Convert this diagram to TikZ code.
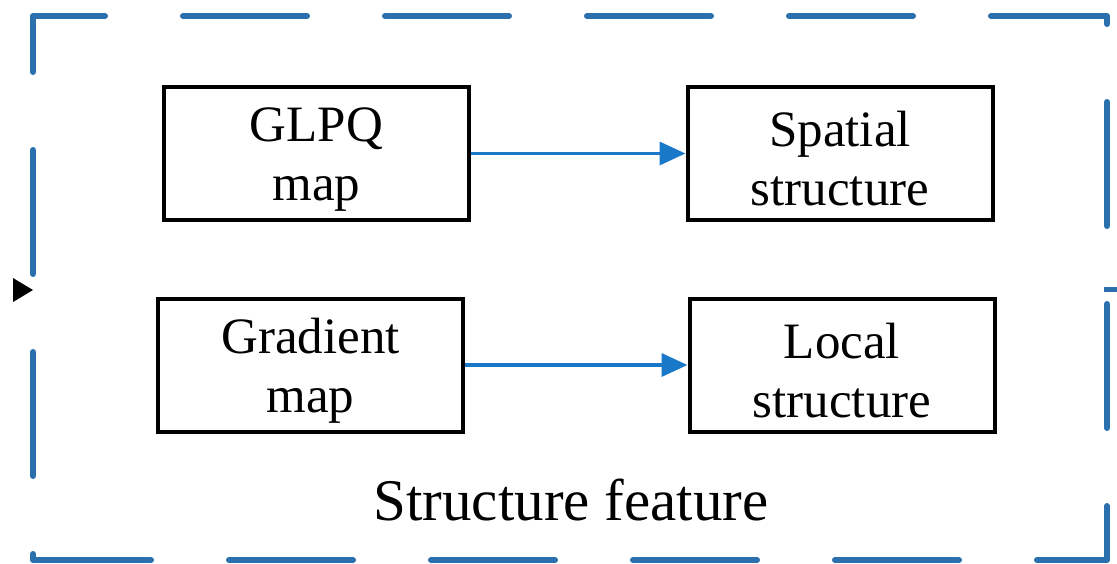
\documentclass[tikz,border=0pt]{standalone}
\usepackage{fontspec}
\setmainfont{Liberation Serif}
\usetikzlibrary{arrows.meta}
\definecolor{frameblue}{HTML}{2A6FAE}
\definecolor{arrowblue}{HTML}{1A78C8}
\tikzset{
  featbox/.style={draw=black, line width=4pt, fill=white, minimum width=305pt,
    minimum height=133pt, inner sep=0pt, align=center,
    font=\fontsize{51}{59}\selectfont},
  flow/.style={draw=arrowblue, line width=3.6pt,
    -{Triangle[length=26pt,width=23pt]}},
  outline/.style={draw=frameblue, line width=6pt, line cap=round, line join=round,
    dash pattern=on 124pt off 78pt, dash phase=52pt},
}
\begin{document}
\begin{tikzpicture}[x=1pt,y=-1pt]
  \useasboundingbox (0,0) rectangle (1117,563);
  % dashed enclosure of the feature block
  \path[outline] (33,16) -- (1107,16) -- (1107,560) -- (33,560) -- cycle;
  \draw[frameblue, line width=5pt] (1104,289) -- (1117,289);
  % incoming marker on the left edge
  \fill[black] (13,278) -- (33,290) -- (13,302) -- cycle;
  % input maps and extracted structures
  \node[featbox] (glpq) at (316.5,153.5) {\rule{0pt}{46pt}GLPQ\\map};
  \node[featbox] (spatial) at (840,153.5) {\rule{0pt}{46pt}Spatial\\structure};
  \node[featbox] (grad) at (310.5,365) {\rule{0pt}{46pt}Gradient\\map};
  \node[featbox] (local) at (842,365) {\rule{0pt}{46pt}Local\\structure};
  \draw[flow] (glpq) -- (spatial);
  \draw[flow] (grad) -- (local);
  % block caption
  \node[anchor=base, font=\fontsize{59}{59}\selectfont] (caption) at (571,520) {Structure feature};
\end{tikzpicture}
\end{document}
